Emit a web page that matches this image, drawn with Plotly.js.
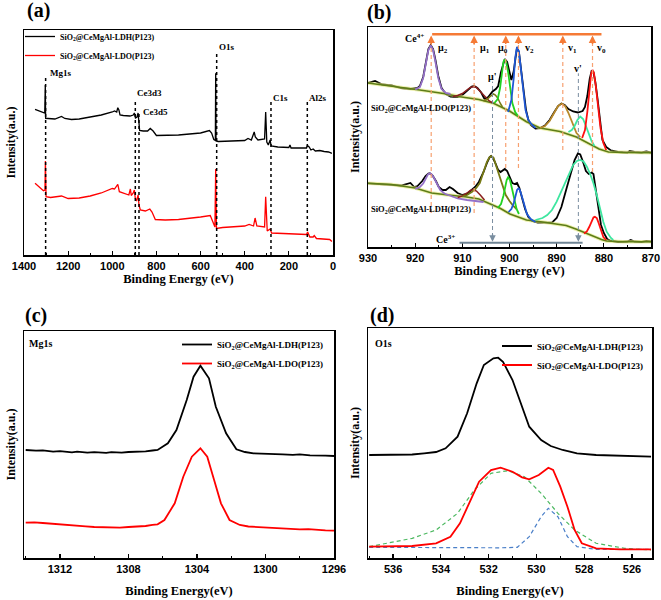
<!DOCTYPE html>
<html><head><meta charset="utf-8">
<script src="https://cdn.plot.ly/plotly-3.0.1.min.js"></script>
<style>html,body{margin:0;padding:0;background:#fff}#chart{width:661px;height:600px}</style>
</head><body><div id="chart"></div>
<script>
// ---------- Panel (a): survey spectra ----------
const aE_LDH = [1350,1312,1306,1303.5,1302,1290,1260,1230,1215,1185,1150,1100,1050,1000,990,980,975,970,965,950,920,905,900,895,888,883,880,876,860,840,828,815,800,750,700,650,600,560,550,540,533,531.5,530,520,450,400,385,370,357,352,340,310,305,300,293,285,280,250,200,195,190,150,120,116,108,100,90,80,60,40,20,5];
const aI_LDH = [145.7,142.3,142,170,136.7,136.5,136,138.5,136.5,135.5,136,138,140,143,144,143,147.3,145,140,139.5,139,140,142,137,138,142,135,124.5,124,124,126.5,124,119.5,119.5,120,121,122,124.5,122,115.5,114.5,181.7,114,113.5,114,114.5,116.5,115,123,118,115,116,143,113,110,115,109,108,107.5,110,107,107,107,109.5,108,105,106,104,104.5,103.5,103,101.7];
const aE_LDO = [1350,1312,1305,1303,1300,1280,1230,1200,1150,1100,1050,1000,990,975,968,950,925,918,914,905,900,896,890,883,879,873,850,830,820,805,760,700,650,600,556,545,535,531.5,528,500,450,400,380,360,353,345,310,305,298,285,278,200,150,120,115,105,90,85,75,50,30,15,5];
const aI_LDO = [71.7,64.3,65,94,58.3,57.5,59,56.5,57,59,62,66.5,66,70.7,63.3,62,60,66,59.5,62,65,57,54,60,50,45,44,46,43,35.5,35,35.5,36.5,38,39.5,33,28,86,26.5,27.5,28,29,30.5,29,37,29,28,58.3,24,26,22,21,20.5,20.5,23,18,18,19.5,16.5,16,16,15.5,13.5];
const aPeakNames = ['Mg1s','Ce3d3','Ce3d5','O1s','C1s','Al2s'];
const aPeakE     = [1302, 895.7, 879, 527, 281, 116.4];
const aPeakTop   = [178.3, 153.3, 141.7, 201.7, 155, 155];
const aLabelY    = [182, 162.3, 143.3, 207.7, 157.3, 157.3];

// ---------- Panel (b): Ce3d ----------
const bLDO_E = [930,928.5,927,925,923,921,919.5,919,918.3,917.7,917.2,916.7,916.2,915.7,915.1,914.4,913.5,912.5,911,910,909,908,907.5,906.8,906,905.3,904.5,903.6,902.9,902.4,901.8,901.3,901,900.5,900,899.6,899.1,898.7,898.4,898,897.5,897,896.5,896,895.5,894.5,893.5,892.5,891.5,890.5,889.7,889,888.3,887.5,886.5,885.5,884.5,884,883.5,883,882.6,882.2,881.8,881.3,880.8,880.3,879.5,878.5,877,875,874.5,873.5,872,871,870];
const bLDO_I = [164,166,162.5,161.5,159,158,159,161,170,186,198,202,198,187,171,159,153,150.5,150,152,156.5,160.5,161,159,154.5,148,150,155.5,158,161,175,185,188,185,175,167,176,192,200,195,177,155,137,127,122,118.5,119,121.5,127,135,141,143.5,142,138,135.5,134.5,136,140,151,168,176,175,165,147,125,107,100,96.5,95,94.5,96,95,94.5,95.5,94.5];
const bLDO_baseE = [930,925,919,914,910.5,906.5,903.4,900,896.4,893.5,889.3,885.8,883.5,881,879,876,870];
const bLDO_baseI = [164,161,157,153.5,150.3,147.5,143.7,136,125.3,119,115.5,110,104,98,95,94.5,94.3];
const bLDO_mu2E = [920,919,918.3,917.7,917.2,916.7,916.2,915.7,915.1,914.4,913.5,912.5];
const bLDO_mu2I = [157.5,160,169,185,197,201.5,197,185,169,158,154,153];
const bLDO_mu1E = [912,911,910,909,908.3,907.6,907,906.2,905.3,904.3,903.5];
const bLDO_mu1I = [150.5,151.5,153.5,157,159.5,160.5,159.5,155.5,150.5,146,144];
const bLDO_mupE = [905.5,904.8,904.2,903.8,903.4,903,902.5,902,901.5];
const bLDO_mupI = [146,147.5,150,152,153,152,149,144,140];
const bLDO_mu0E = [903.2,902.5,902,901.6,901.3,901,900.7,900.3,899.9,899.4,898.8,898.2];
const bLDO_mu0I = [144,148,159,175,185,187.5,185,175,159,144,135,131];
const bLDO_v2E = [900.3,899.6,899.1,898.8,898.4,898,897.6,897.1,896.6,896,895.2,894.5];
const bLDO_v2I = [135,147,169,189,200,195,179,155,137,127,122,119];
const bLDO_v1E = [893.5,892.5,891.5,890.5,889.7,888.9,888.2,887.5,886.7,885.8,885];
const bLDO_v1I = [119,121,126,134,141,143.5,141,134,124,114,110];
const bLDO_vpE = [887.5,886.8,886.2,885.6,885,884.4,883.8,883.2,882.6,882];
const bLDO_vpI = [115,117,121,127,130.5,128,121,113,106,101];
const bLDO_v0E = [884.6,884,883.5,883.1,882.7,882.4,882.1,881.7,881.2,880.7,880.1,879.5];
const bLDO_v0I = [109,117,135,157,173,177,174,161,139,119,104,97];

const bLDH_E = [930,928,925,923,921,920.2,919.5,918.5,917.8,917.2,916.9,916.3,915.6,915,914.2,913.5,912.7,912,911,910,909,908,907.3,906.5,905.5,904.7,904.2,903.9,903.5,903,902.4,901.9,901.4,901,900.5,900,899.4,898.9,898.4,897.9,897.3,896.7,896,895.2,894,892.5,891,890,889,888,887,886.2,885.5,885,884.4,883.8,883.2,882.6,882.2,881.7,881.2,880.6,880,879.3,878.5,877,875,874.3,873.5,872,871,870];
const bLDH_I = [63.7,63,62.5,61.5,64,60,61,66,71,73.5,73.7,71.5,66,60,57,57,60,58,54,52,53,57,60,65,75,85,90,91,89,84,77,75,77,78,76,71,64,63,64,59,49,38,30,26,24.3,24,24.3,29,40,57,75,87,93.5,92.5,85,76,73,74.5,73,57,37,22,14,8,6,5,5.5,7,5.5,5,6,5.5];
const bLDH_baseE = [930,925,920,916.5,913,909.4,906.5,903.8,902,899.9,896.4,893,890.7,888,885.8,884,882.2,880.5,879.4,876,870];
const bLDH_baseI = [63.7,62.5,59,54,52,50.3,48,42,38.7,33,27,25,23.7,21.5,17.7,14,10.3,7.5,6,5.3,5.3];
const bLDH_mu2E = [920,919,918.3,917.7,917.3,916.9,916.5,916,915.4,914.7,913.8,912.5,911,909,907,905.5];
const bLDH_mu2I = [58,60,63.5,69,72.5,73.7,72.5,69,63,57,53.5,51,48.5,47,46,45];
const bLDH_mu1E = [911,910,909,908.3,907.7,907,906.2,905.3];
const bLDH_mu1I = [49.5,51,54,56.5,57.5,56,52,47];
const bLDH_mupE = [910,909,908,907.2,906.3,905.5,904.8,904.3,903.9,903.4,902.8,902.2,901.5,900.8,900,899.2,898.5];
const bLDH_mupI = [50.5,52,55,58,64,75,85,89.5,91,89.5,81,71,61,52,46,41,38];
const bLDH_mu0E = [902.5,901.8,901.3,900.9,900.6,900.3,899.9,899.5,899,898.5,898];
const bLDH_mu0I = [39,43,51,61,67,69.7,67,59,48,38,33];
const bLDH_v2E = [900.2,899.6,899.1,898.7,898.4,898.1,897.8,897.4,896.9,896.3,895.5,894.5];
const bLDH_v2I = [35,38,44,52,57,58.7,57,51,42,33,28,25];
const bLDH_vpE = [894.5,893,892,891,890,889,888,887.2,886.5,885.7,885,884.3,883.6,882.9,882.2,881.5,880.8,880.1,879.4,878.5,878];
const bLDH_vpI = [27,29,32,37,45.3,56,66,74,82,86,87,85.5,80.3,73,63.7,52,37,25,15.3,9,7];
const bLDH_v0E = [884.2,883.6,883.1,882.6,882.2,881.9,881.5,881.1,880.6,880.1,879.5];
const bLDH_v0I = [13.5,15.5,20,26,29.5,30.3,29,24,16,10,7];

const bCe4Names  = ['μ<sub>2</sub>','μ<sub>1</sub>','μ<sub>0</sub>','v<sub>2</sub>','v<sub>1</sub>','v<sub>0</sub>'];
const bCe4E      = [916.6, 907.5, 900.8, 898.1, 888.7, 882.4];
const bCe4Bottom = [34, 34, 79, 79, 97, 75];
const bCe4LabelE = [915.6, 906.7, 902.9, 897.2, 888.0, 881.9];
const bCe3Names  = ["μ'", "v'"];
const bCe3E      = [903.6, 885.4];
const bCe3Top    = [165.3, 173.7];
const bCe3LabelI = [171, 178.7];

// ---------- Panel (c): Mg1s ----------
const cE_LDH = [1314,1313.4,1313,1312.4,1312,1311.3,1311,1310.4,1310,1309.3,1309,1308.4,1308,1307.4,1307,1306.6,1306.3,1305.7,1305.2,1304.6,1304.2,1303.8,1303.3,1302.9,1302.3,1301.7,1301.2,1300.7,1300,1299.5,1299,1298.4,1298,1297.4,1297,1296.5,1296];
const cI_LDH = [108,107.3,107.6,106.4,106.8,105.6,106.3,105.3,105.8,105.2,105.9,105.4,106,106.3,106.7,107.5,108,114.7,128,158,181.3,192.3,179.7,151.3,124.7,108.7,106,104.7,104.5,104,103.7,103.2,103.6,102.6,102.7,102.3,102];
const cE_LDO = [1314,1313.5,1313,1312.5,1312,1311.5,1311,1310.5,1310,1309.5,1309,1308.5,1308,1307.5,1307,1306.6,1306.3,1305.9,1305.3,1304.8,1304.3,1303.8,1303.4,1303,1302.6,1302.1,1301.5,1301,1300.5,1300,1299.5,1299,1298.5,1298,1297.5,1297,1296.5,1296];
const cI_LDO = [35.3,35.6,35,34.2,33.5,32.8,32,31.6,31,30.6,30.7,30.3,31,31.4,32,33.2,33.7,38,54.7,81.3,101.3,109.7,101.3,78,54.7,38,33,31.5,31,30.7,30.2,30,29.4,28.7,28.8,28,27.6,27.3];

// ---------- Panel (d): O1s ----------
const dE_LDH = [537,536,535.2,534.7,534.2,533.8,533.3,532.9,532.5,532.2,531.8,531.6,531.4,531,530.6,530.3,529.8,529.4,528.9,528.3,527.5,527,526,525.2];
const dI_LDH = [103,103,103.5,104.7,106,109.7,121.3,144.7,174.7,193,199.7,200.3,196.3,178,151.3,131.3,118,112,108,104.7,103,102.5,102,101.3];
const dE_LDO = [537,536,535.2,534.2,533.6,533.2,532.8,532.4,531.9,531.5,531,530.6,530.3,529.9,529.5,529.3,529,528.7,528.4,528.1,527.5,526.5,525.2];
const dI_LDO = [11.3,11.5,12,14.7,21.3,34.7,54.7,76.3,88,90.3,86.3,80.7,78.7,83,90.3,88,71.3,51.3,28,14.7,9.7,8.7,8.7];
const dFit1E = [537,535.2,534.2,533.3,532.6,531.9,531.2,530.5,529.8,529.1,528.4,527.5,526.3,525.2];
const dFit1I = [11.3,19.7,28,44.7,68,84.7,87.3,81.3,64.7,44.7,28,14.7,9.7,8];
const dFit2E = [537,535,533,531.5,530.8,530.3,529.8,529.5,529.1,528.7,528.3,527.5,525.2];
const dFit2I = [10.7,10.4,10.2,10.2,10.7,21.3,41.3,49.7,41.3,21.3,11.3,8.7,8.7];

const nameLDH = 'SiO<sub>2</sub>@CeMgAl-LDH(P123)';
const nameLDO = 'SiO<sub>2</sub>@CeMgAl-LDO(P123)';

// ---------- build ----------
const SERIF = 'Liberation Serif, Times New Roman, serif';
const SANS = 'Liberation Sans Narrow, Arial Narrow, Liberation Sans, Arial, sans-serif';
const traces = [];
function ln(x, y, ax, color, width, extra) {
  return Object.assign({x: x, y: y, xaxis: 'x' + ax, yaxis: 'y' + ax, mode: 'lines',
    line: {color: color, width: width}, showlegend: false, hoverinfo: 'skip'}, extra || {});
}
// (a)
traces.push(ln(aE_LDH, aI_LDH, '', '#000', 1.3, {name: nameLDH, showlegend: true, legend: 'legend'}));
traces.push(ln(aE_LDO, aI_LDO, '', '#ff0000', 1.3, {name: nameLDO, showlegend: true, legend: 'legend'}));
// (b)
const C = {mu2: '#9470c8', mu1: '#8b1e1e', mup: '#777a14', mu0: '#22d322', v2: '#1f58d6', v1: '#b8892a', vp: '#3ee6a0', v0: '#ff1010', base: '#5d7d17'};
traces.push(ln(bLDO_E, bLDO_I, '2', '#000', 1.8));
traces.push(ln(bLDH_E, bLDH_I, '2', '#000', 1.8));
traces.push(ln(bLDO_baseE, bLDO_baseI, '2', 'rgba(225,230,120,0.6)', 3.5));
traces.push(ln(bLDH_baseE, bLDH_baseI, '2', 'rgba(225,230,120,0.6)', 3.5));
traces.push(ln(bLDO_baseE, bLDO_baseI, '2', C.base, 1.6));
traces.push(ln(bLDH_baseE, bLDH_baseI, '2', C.base, 1.6));
traces.push(ln(bLDO_mu2E, bLDO_mu2I, '2', C.mu2, 1.8));
traces.push(ln(bLDO_mu1E, bLDO_mu1I, '2', C.mu1, 1.5));
traces.push(ln(bLDO_mupE, bLDO_mupI, '2', C.mup, 1.5));
traces.push(ln(bLDO_mu0E, bLDO_mu0I, '2', C.mu0, 1.8));
traces.push(ln(bLDO_v2E, bLDO_v2I, '2', C.v2, 1.8));
traces.push(ln(bLDO_v1E, bLDO_v1I, '2', C.v1, 1.8));
traces.push(ln(bLDO_vpE, bLDO_vpI, '2', C.vp, 1.8));
traces.push(ln(bLDO_v0E, bLDO_v0I, '2', C.v0, 1.8));
traces.push(ln(bLDH_mu2E, bLDH_mu2I, '2', C.mu2, 1.8));
traces.push(ln(bLDH_mu1E, bLDH_mu1I, '2', C.mu1, 1.5));
traces.push(ln(bLDH_mupE, bLDH_mupI, '2', C.mup, 1.8));
traces.push(ln(bLDH_mu0E, bLDH_mu0I, '2', C.mu0, 1.8));
traces.push(ln(bLDH_v2E, bLDH_v2I, '2', C.v2, 1.8));
traces.push(ln(bLDH_vpE, bLDH_vpI, '2', C.vp, 1.8));
traces.push(ln(bLDH_v0E, bLDH_v0I, '2', C.v0, 1.8));
// (c)
traces.push(ln(cE_LDH, cI_LDH, '3', '#000', 1.8, {name: nameLDH, showlegend: true, legend: 'legend2'}));
traces.push(ln(cE_LDO, cI_LDO, '3', '#ff0000', 1.8, {name: nameLDO, showlegend: true, legend: 'legend2'}));
// (d)
traces.push(ln(dFit1E, dFit1I, '4', '#4cb860', 1.2, {line: {color: '#4cb860', width: 1.2, dash: '4px,3px'}}));
traces.push(ln(dFit2E, dFit2I, '4', '#4a7fc8', 1.2, {line: {color: '#4a7fc8', width: 1.2, dash: '4px,3px'}}));
traces.push(ln(dE_LDH, dI_LDH, '4', '#000', 1.8, {name: nameLDH, showlegend: true, legend: 'legend3'}));
traces.push(ln(dE_LDO, dI_LDO, '4', '#ff0000', 1.8, {name: nameLDO, showlegend: true, legend: 'legend3'}));

const shapes = [], annotations = [];
// (a) dotted markers + labels
aPeakNames.forEach((n, i) => {
  shapes.push({type: 'line', xref: 'x', yref: 'y', x0: aPeakE[i], x1: aPeakE[i], y0: 0, y1: aPeakTop[i],
    line: {color: '#000', width: 1.5, dash: 'dot'}});
  annotations.push({xref: 'x', yref: 'y', x: aPeakE[i], y: aLabelY[i], text: n, showarrow: false,
    xanchor: 'left', yanchor: 'middle', xshift: (i === 0 || i === 2) ? 2 : 0,
    font: {family: SERIF, size: 9, weight: 'bold', color: '#000'}});
});
// (b) Ce4+ markers
const ORANGE = '#f57a35';
shapes.push({type: 'line', xref: 'x2', yref: 'y2', x0: bCe4E[0] - 0.2, x1: 880.5, y0: 212.7, y1: 212.7,
  line: {color: ORANGE, width: 2.5}});
bCe4Names.forEach((n, i) => {
  shapes.push({type: 'line', xref: 'x2', yref: 'y2', x0: bCe4E[i], x1: bCe4E[i], y0: bCe4Bottom[i], y1: 204,
    line: {color: '#f7a070', width: 1.2, dash: '4px,3px'}});
  annotations.push({xref: 'x2', yref: 'y2', x: bCe4E[i], y: 211.5, ax: 0, ay: 10, text: '', showarrow: true,
    arrowhead: 2, arrowsize: 1, arrowwidth: 1.5, arrowcolor: ORANGE});
  annotations.push({xref: 'x2', yref: 'y2', x: bCe4LabelE[i], y: 198.7, text: n, showarrow: false,
    xanchor: 'left', yanchor: 'middle', font: {family: SERIF, size: 10, weight: 'bold', color: '#000'}});
});
// (b) Ce3+ markers
const GRAY = '#7a8ea0';
shapes.push({type: 'line', xref: 'x2', yref: 'y2', x0: 910.6, x1: 884.5, y0: 4.3, y1: 4.3,
  line: {color: '#6f8494', width: 2}});
bCe3Names.forEach((n, i) => {
  shapes.push({type: 'line', xref: 'x2', yref: 'y2', x0: bCe3E[i], x1: bCe3E[i], y0: 10, y1: bCe3Top[i],
    line: {color: GRAY, width: 1, dash: '4px,3px'}});
  annotations.push({xref: 'x2', yref: 'y2', x: bCe3E[i], y: 5.3, ax: 0, ay: -9, text: '', showarrow: true,
    arrowhead: 2, arrowsize: 1, arrowwidth: 1.3, arrowcolor: GRAY});
  annotations.push({xref: 'x2', yref: 'y2', x: bCe3E[i], y: bCe3LabelI[i], text: n, showarrow: false,
    xanchor: 'center', yanchor: 'middle', font: {family: SERIF, size: 10, weight: 'bold', color: '#000'}});
});
annotations.push({xref: 'x2', yref: 'y2', x: 917.6, y: 208.7, text: 'Ce<sup>4+</sup>', showarrow: false,
  xanchor: 'right', yanchor: 'middle', font: {family: SERIF, size: 10, weight: 'bold', color: '#000'}});
annotations.push({xref: 'x2', yref: 'y2', x: 911.2, y: 7.7, text: 'Ce<sup>3+</sup>', showarrow: false,
  xanchor: 'right', yanchor: 'middle', font: {family: SERIF, size: 10, weight: 'bold', color: '#000'}});
annotations.push({xref: 'x2', yref: 'y2', x: 929.8, y: 138.7, text: nameLDO, showarrow: false,
  xanchor: 'left', yanchor: 'middle', font: {family: SERIF, size: 8.5, weight: 'bold', color: '#000'}});
annotations.push({xref: 'x2', yref: 'y2', x: 929.8, y: 37.7, text: nameLDH, showarrow: false,
  xanchor: 'left', yanchor: 'middle', font: {family: SERIF, size: 8.5, weight: 'bold', color: '#000'}});
// (c),(d) labels
annotations.push({xref: 'paper', yref: 'paper', x: 27 / 661, y: 1 - 343.3 / 600, text: 'Mg1s', showarrow: false,
  xanchor: 'left', yanchor: 'middle', font: {family: SERIF, size: 10, weight: 'bold', color: '#000'}});
annotations.push({xref: 'paper', yref: 'paper', x: 373 / 661, y: 1 - 343.3 / 600, text: 'O1s', showarrow: false,
  xanchor: 'left', yanchor: 'middle', font: {family: SERIF, size: 10, weight: 'bold', color: '#000'}});
// panel letters
[['(a)', 25, 11], ['(b)', 365, 12], ['(c)', 23, 315], ['(d)', 368, 315]].forEach(p => {
  annotations.push({xref: 'paper', yref: 'paper', x: p[1] / 661, y: 1 - p[2] / 600, text: p[0], showarrow: false,
    xanchor: 'left', yanchor: 'middle', font: {family: SERIF, size: 20, weight: 'bold', color: '#000'}});
});

function xax(anchor, dom, range, dtick, minor, tvals, title, standoff) {
  const o = {anchor: anchor, domain: dom, range: range, showline: true, mirror: true, linecolor: '#000', linewidth: 1.5,
    ticks: 'inside', ticklen: 4, tickwidth: 1.2, tickcolor: '#000', showgrid: false, zeroline: false,
    tickfont: {family: SANS, size: 11, weight: 'bold', color: '#000'},
    minor: {dtick: minor, ticks: 'inside', ticklen: 2.5, tickwidth: 1, tickcolor: '#000', showgrid: false},
    title: {text: title, font: {family: SERIF, size: 12.5, weight: 'bold', color: '#000'}, standoff: standoff}};
  if (tvals) { o.tickmode = 'array'; o.tickvals = tvals; } else { o.dtick = dtick; o.tick0 = 0; }
  return o;
}
function yax(anchor, dom, range) {
  return {anchor: anchor, domain: dom, range: range, showline: true, mirror: true, linecolor: '#000', linewidth: 1.5,
    ticks: '', showticklabels: false, showgrid: false, zeroline: false,
    title: {text: 'Intensity(a.u.)', font: {family: SERIF, size: 12, weight: 'bold', color: '#000'}, standoff: 4}};
}
const layout = {
  width: 661, height: 600, margin: {l: 0, r: 0, t: 0, b: 0}, paper_bgcolor: '#fff', plot_bgcolor: '#fff',
  xaxis: xax('y', [24 / 661, 333 / 661], [1400, 0], 200, 100, null, 'Binding Energy (eV)', 3),
  yaxis: yax('x', [1 - 255 / 600, 1 - 30 / 600], [0, 225]),
  xaxis2: xax('y2', [368 / 661, 651 / 661], [930, 870], 10, 5, null, 'Binding Energy (eV)', 3),
  yaxis2: yax('x2', [1 - 247 / 600, 1 - 27 / 600], [0, 220]),
  xaxis3: xax('y3', [24 / 661, 334 / 661], [1314.1, 1296], 4, 2, [1312, 1308, 1304, 1300, 1296], 'Binding Energy(eV)', 12),
  yaxis3: yax('x3', [1 - 558 / 600, 1 - 331 / 600], [0, 227]),
  xaxis4: xax('y4', [368 / 661, 652 / 661], [537.05, 525.16], 2, 1, [536, 534, 532, 530, 528, 526], 'Binding Energy(eV)', 12),
  yaxis4: yax('x4', [1 - 558 / 600, 1 - 328 / 600], [0, 230]),
  legend: {x: 20 / 661, y: 1 - 22 / 600, xanchor: 'left', yanchor: 'top', bgcolor: 'rgba(0,0,0,0)',
    font: {family: SERIF, size: 8, weight: 'bold', color: '#000'}, tracegroupgap: 0},
  legend2: {x: 177 / 661, y: 1 - 330 / 600, xanchor: 'left', yanchor: 'top', bgcolor: 'rgba(0,0,0,0)',
    font: {family: SERIF, size: 9, weight: 'bold', color: '#000'}, tracegroupgap: 0},
  legend3: {x: 497 / 661, y: 1 - 331.5 / 600, xanchor: 'left', yanchor: 'top', bgcolor: 'rgba(0,0,0,0)',
    font: {family: SERIF, size: 9, weight: 'bold', color: '#000'}, tracegroupgap: 0},
  shapes: shapes, annotations: annotations
};
Plotly.newPlot('chart', traces, layout, {displayModeBar: false, staticPlot: true});
</script></body></html>
